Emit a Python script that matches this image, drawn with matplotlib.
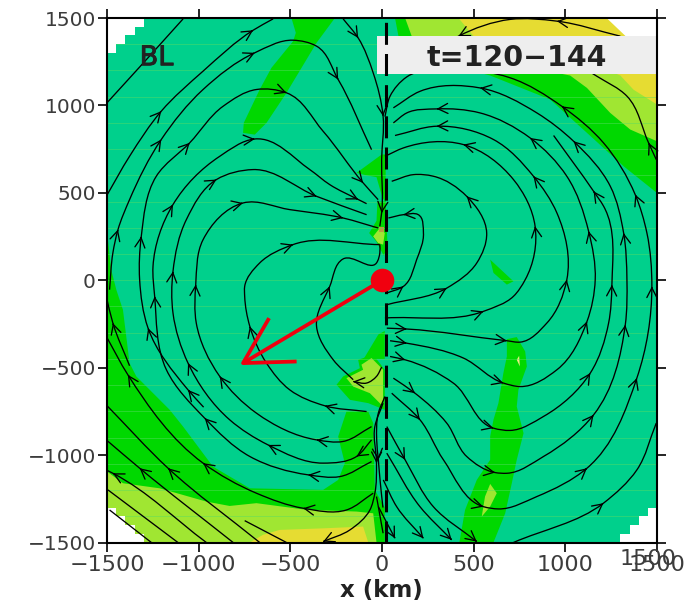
import numpy as np
import matplotlib
matplotlib.use('Agg')
import matplotlib.pyplot as plt
import matplotlib.patheffects as pe
from matplotlib.patches import PathPatch, Polygon, Rectangle
from matplotlib.path import Path

plt.rcParams['font.family'] = ['DejaVu Sans']

TEAL = '#00d08c'
GREEN = '#00d800'
LIGHT = '#a0e632'
YELLOW = '#e6dc32'
RED = '#f0000f'

x_ticks = [-1500, -1000, -500, 0, 500, 1000, 1500]
y_ticks = [-1500, -1000, -500, 0, 500, 1000, 1500]
faint_levels = [-1350, -1200, -1050, -900, -750, -600, -450, -300, -150, 0,
                150, 300, 450, 600, 750, 900, 1050, 1200, 1350]

# shaded regions (km)
green_topleft = [(-494, 1500), (-257, 1500), (-357, 1358), (-521, 1072), (-630, 900), (-694, 833), (-758, 843),
                 (-754, 900), (-667, 1091), (-603, 1215), (-485, 1367), (-470, 1415)]
green_above = [(-139, 614), (-2, 719), (20, 720), (20, 440), (0, 480), (-30, 590), (-84, 600)]
green_strip = [(-25, 450), (20, 450), (30, 200), (10, 140), (-30, 220), (-70, 270), (-30, 340)]
light_center = [(-48, 251), (-12, 299), (15, 270), (6, 204), (-21, 213)]
brown_center = [(-15, 305), (12, 305), (12, 278), (-15, 278)]
green_left = [(-1500, 280), (-1477, 60), (-1449, -55), (-1413, -169), (-1377, -474), (-1340, -550), (-1158, -741),
              (-1085, -837), (-922, -1066), (-721, -1190), (-321, -1199), (-239, -1142), (-203, -1046), (-239, -894),
              (-194, -751), (-75, -751), (-48, -817), (-39, -1199), (15, -1300), (15, -1500), (-1500, -1500)]
light_bottom = [(-1500, -1094), (-1413, -1161), (-1213, -1190), (-958, -1266), (-831, -1291), (-685, -1275),
                (-412, -1313), (-139, -1323), (-48, -1333), (-30, -1500), (-1500, -1500)]
yellow_bottom = [(-721, -1500), (-649, -1456), (-558, -1428), (-321, -1419), (-103, -1409), (-75, -1500)]
green_island = [(-248, -598), (-212, -550), (-121, -503), (-130, -455), (-48, -426), (15, -512), (15, -741),
                (-75, -703), (-175, -684)]
green_neck = [(-100, -450), (-20, -310), (15, -290), (15, -450)]
light_island = [(-194, -560), (-103, -512), (-112, -483), (-57, -445), (6, -512), (6, -722), (-66, -646),
                (-157, -608)]
green_right = [(681, -337), (735, -325), (781, -407), (790, -493), (744, -627), (735, -722), (772, -875), (735, -1027),
               (708, -1161), (672, -1333), (608, -1500), (422, -1500), (453, -1314), (517, -1142), (590, -1027),
               (590, -894), (608, -798), (635, -703), (662, -531), (681, -436)]
light_right = [(590, -1165), (626, -1218), (590, -1294), (544, -1352), (562, -1237)]
light_right_spot = [(735, -455), (748, -432), (752, -493)]
green_spot = [(590, 118), (717, -6), (681, -25), (608, 42)]
green_corner = [(71, 1500), (90, 1395), (300, 1250), (590, 1171), (917, 1034), (1118, 843), (1318, 652), (1500, 499),
                (1500, 1500)]
light_corner = [(126, 1500), (162, 1396), (500, 1280), (1026, 1171), (1118, 1100), (1245, 957), (1354, 862),
                (1500, 795), (1500, 1500)]
yellow_corner = [(417, 1500), (500, 1396), (900, 1350), (1300, 1171), (1372, 1090), (1500, 1005), (1500, 1500)]

# missing-data corners (km)
white_tl = [(-1500, 1500), (-1500, 1300), (-1450, 1300), (-1450, 1350), (-1400, 1350), (-1400, 1400), (-1350, 1400),
            (-1350, 1450), (-1300, 1450), (-1300, 1500)]
white_tr = [(1225, 1500), (1330, 1395), (1500, 1395), (1500, 1500)]
white_br = [(1500, -1500), (1300, -1500), (1300, -1450), (1350, -1450), (1350, -1400), (1400, -1400), (1400, -1350),
            (1450, -1350), (1450, -1300), (1500, -1300)]
white_bl = [(-1500, -1500), (-1500, -1300), (-1450, -1300), (-1450, -1350), (-1400, -1350), (-1400, -1400),
            (-1350, -1400), (-1350, -1450), (-1300, -1450), (-1300, -1500)]

# streamlines (km), in flow order
tl1 = [(-1500, 1015), (-1300, 1245), (-1085, 1495)]
tl2 = [(-1504, 480), (-1377, 709), (-1204, 967), (-976, 1196), (-703, 1430), (-594, 1495)]
tl3 = [(-1486, -54), (-1468, 156), (-1440, 290), (-1377, 461), (-1204, 805), (-976, 1091), (-694, 1301), (-485, 1373),
       (-357, 1339), (-239, 1148), (-57, 747)]
l150 = [(-973, -726), (-1058, -627), (-1276, -274), (-1322, 3), (-1313, 251), (-1231, 595), (-1049, 786), (-867, 995),
        (-685, 1091), (-521, 1072), (-321, 852), (-103, 557), (-21, 461)]
l190 = [(-57, -1037), (-230, -1123), (-403, -1113), (-721, -1008), (-967, -789), (-1176, -512), (-1240, -92),
        (-1249, 80), (-1140, 433), (-885, 709), (-694, 808), (-394, 633), (-285, 547), (-130, 462), (-84, 438)]
l245 = [(-57, -913), (-139, -1008), (-321, -1046), (-621, -942), (-831, -798), (-1058, -474), (-1140, -188),
        (-1140, 51), (-1067, 347), (-903, 576), (-703, 633), (-357, 480), (-84, 375)]
l318 = [(-57, -837), (-212, -922), (-357, -913), (-685, -760), (-885, -550), (-1013, -245), (-1016, -25), (-976, 232),
        (-758, 442), (-503, 404), (-212, 356), (-21, 299)]
l465 = [(-84, -751), (-312, -718), (-503, -627), (-630, -474), (-721, -264), (-749, -92), (-749, -35), (-667, 99),
        (-485, 204), (-12, 204)]
core = [(-157, -569), (-266, -455), (-357, -264), (-285, -35), (-212, 122), (-30, 99), (-12, 156), (-12, 204)]
arc = [(-2, -497), (-30, -550), (-84, -588), (-157, -579)]
la = [(-48, -1218), (-194, -1314), (-430, -1304), (-685, -1218), (-976, -1046), (-1386, -541), (-1504, -321)]
lb = [(-1377, -489), (-1468, -245), (-1504, -92)]
lc = [(-667, -1500), (-1167, -1075), (-1504, -713)]
ld = [(-812, -1500), (-1322, -1075), (-1504, -913)]
le = [(-958, -1500), (-1468, -1104), (-1504, -1085)]
lf = [(-1113, -1500), (-1495, -1199)]
lg = [(-1258, -1500), (-1486, -1314)]
lh = [(-521, -1500), (-749, -1375)]
ax1 = [(-212, 1495), (-130, 1386), (-48, 1186), (6, 938), (-2, 690), (-2, 385), (-12, 309)]
ax2 = [(6, -703), (-39, -837), (-30, -1046), (-39, -1218), (-66, -1314), (-175, -1428), (-321, -1495)]
ax3 = [(-30, -1237), (6, -1447)]
ax4 = [(16, -665), (-20, -760), (-29, -913), (-20, -1027), (-10, -1150), (5, -1300)]
r1 = [(1496, 690), (1454, 786), (1336, 1053), (1172, 1167), (1026, 1260)]
r1top = [(1300, 1396), (954, 1482), (699, 1492), (417, 1396), (298, 1320)]
r2 = [(53, -646), (207, -798), (335, -1027), (553, -1295), (635, -1308), (845, -1237), (1118, -1075), (1390, -560),
      (1472, -35), (1445, 270), (1381, 490), (1208, 786), (981, 995), (699, 1158), (390, 1205), (135, 1163), (44, 1053),
      (16, 936)]
r3 = [(62, -560), (180, -646), (353, -817), (462, -1008), (617, -1100), (681, -1104), (881, -1008), (1154, -770),
      (1327, -255), (1336, 3), (1318, 270), (1245, 538), (1045, 795), (845, 957), (535, 1100), (208, 1081), (62, 986)]
r4 = [(44, -436), (126, -455), (390, -589), (608, -846), (699, -859), (881, -779), (1136, -531), (1236, -245),
      (1254, -26), (1209, 423), (1154, 509), (936, 828)]
r5 = [(44, -346), (135, -360), (444, -445), (662, -588), (753, -608), (954, -512), (1118, -236), (1163, 3), (1127, 280),
      (1008, 595), (808, 814), (535, 957), (298, 980), (135, 957), (62, 900)]
r6 = [(26, -274), (135, -279), (681, -346), (753, -354), (899, -245), (1008, 3), (954, 385), (826, 595), (608, 805),
      (298, 881), (71, 828)]
r7 = [(16, -216), (553, -178), (717, -92), (781, 3), (835, 309), (717, 576), (444, 776), (117, 757), (16, 709)]
r8 = [(26, -140), (353, -45), (517, 99), (571, 270), (462, 480), (280, 595), (171, 604), (53, 566)]
r9 = [(26, -73), (117, -35), (189, 118), (226, 270), (198, 375), (117, 375), (35, 356)]
s9 = [(26, -837), (126, -1027), (280, -1295), (517, -1495)]
s10 = [(26, -989), (207, -1295), (380, -1485)]
s11 = [(7, -1142), (80, -1295), (226, -1476)]
s12 = [(-20, -1295), (71, -1476)]
s13 = [(717, -1500), (1208, -1275), (1390, -1085), (1496, -817)]

# (line, indices of the points that carry an arrowhead)
streamlines = [(tl1, []), (tl2, [2, 4]), (tl3, [2, 4, 6, 9]), (l150, [1, 2, 4, 6, 9, 11]),
               (l190, [2, 4, 6, 8, 10, 13]), (l245, [1, 3, 5, 7, 9, 11]), (l318, [2, 4, 6, 8, 10]),
               (l465, [1, 4, 8]), (core, [3]), (arc, [3]), (la, [2, 4, 5]), (lb, [1]), (lc, [1]), (ld, [1]),
               (le, [1]), (lf, []), (lg, []), (lh, []), (ax1, [1, 3, 5]), (ax2, [2, 6]), (ax3, []), (ax4, [3]),
               (r1, [1]), (r1top, [1, 3]), (r2, [1, 3, 6, 7, 8, 10, 12]), (r3, [1, 4, 7, 8, 10, 12, 14]),
               (r4, [1, 3, 6, 8, 10]), (r5, [1, 3, 6, 8, 10, 12]), (r6, [1, 2, 5, 7, 9]), (r7, [1, 4, 6]),
               (r8, [1, 4]), (r9, [1, 5]), (s9, [1, 3]), (s10, [2]), (s11, [2]), (s12, [1]), (s13, [1])]

storm_x, storm_y = 0, 0
motion_tip = (-758, -474)
motion_barb1 = (-621, -226)
motion_barb2 = (-476, -465)


# Tangent at each point, weighted by distance so uneven spacing does not overshoot
def tangents(pts):
    seg = np.linalg.norm(np.diff(pts, axis=0), axis=1)
    unit = np.diff(pts, axis=0) / seg[:, None]
    out = np.zeros_like(pts)
    out[0] = unit[0]
    out[-1] = unit[-1]
    for i in range(1, len(pts) - 1):
        t = unit[i - 1] * seg[i] + unit[i] * seg[i - 1]
        out[i] = t / np.linalg.norm(t)
    return out, seg


def smooth_path(points):
    pts = np.array(points, dtype=float)
    tan, seg = tangents(pts)
    verts = [pts[0]]
    codes = [Path.MOVETO]
    for i in range(len(pts) - 1):
        verts += [pts[i] + tan[i] * seg[i] / 3, pts[i + 1] - tan[i + 1] * seg[i] / 3, pts[i + 1]]
        codes += [Path.CURVE4] * 3
    return Path(verts, codes)


def draw_streamline(ax, points, arrow_idx):
    ax.add_patch(PathPatch(smooth_path(points), fc='none', ec='black', lw=0.95, zorder=5))
    pts = np.array(points, dtype=float)
    tan, _ = tangents(pts)
    for i in arrow_idx:
        ax.annotate('', xy=pts[i], xytext=pts[i] - tan[i] * 8,
                    arrowprops=dict(arrowstyle='->,head_length=0.7,head_width=0.36', color='black', lw=0.95,
                                    shrinkA=0, shrinkB=0), zorder=5)


def main():
    fig = plt.figure(figsize=(6.85, 6.05), dpi=100)
    ax = fig.add_axes([107 / 685, (605 - 542.5) / 605, 550 / 685, 524.5 / 605])
    ax.set_xlim(-1500, 1500)
    ax.set_ylim(-1500, 1500)
    ax.set_facecolor(TEAL)

    regions = [(green_topleft, GREEN), (green_left, GREEN), (green_above, GREEN), (green_strip, GREEN),
               (green_island, GREEN), (green_neck, GREEN), (green_right, GREEN), (green_spot, GREEN),
               (green_corner, GREEN), (light_corner, LIGHT), (yellow_corner, YELLOW), (light_bottom, LIGHT),
               (yellow_bottom, YELLOW), (light_island, LIGHT), (light_center, LIGHT), (brown_center, '#b8a040'),
               (light_right, LIGHT), (light_right_spot, '#e8f080')]
    for poly, color in regions:
        ax.add_patch(Polygon(poly, closed=True, fc=color, ec='none', zorder=1))
    ax.hlines(faint_levels, -1500, 1500, color='#58dc64', lw=0.6, alpha=0.55, zorder=2)
    for poly in [white_tl, white_tr, white_br, white_bl]:
        ax.add_patch(Polygon(poly, closed=True, fc='white', ec='none', zorder=3))

    for points, arrow_idx in streamlines:
        draw_streamline(ax, points, arrow_idx)

    # label box sits over the streamlines
    ax.add_patch(Rectangle((-30, 1180), 1525, 218, fc='#eeeeee', ec='none', zorder=6))
    ax.text(735, 1270, 't=120\u2212144', ha='center', va='center', fontsize=20.5, weight='bold', color='#222222', zorder=7)
    ax.text(-1230, 1270, 'BL', ha='center', va='center', fontsize=19.5, color='#222222', zorder=7,
            path_effects=[pe.withStroke(linewidth=0.7, foreground='#222222')])

    ax.plot([20, 20], [-1500, 1500], color='black', lw=2.2, dashes=(7.2, 3), zorder=8)

    ax.plot(*zip((storm_x, storm_y), motion_tip), color=RED, lw=2.7, zorder=9, solid_capstyle='butt')
    ax.plot(*zip(motion_barb1, motion_tip, motion_barb2), color=RED, lw=2.7, zorder=9)
    ax.plot([storm_x], [storm_y], 'o', color=RED, ms=17, mec='none', zorder=10)

    ax.set_xticks(x_ticks)
    ax.set_yticks(y_ticks)
    ax.set_xticklabels([str(t).replace('-', '\u2212') for t in x_ticks])
    ax.set_yticklabels([str(t).replace('-', '\u2212') for t in y_ticks])
    ax.tick_params(axis='both', which='both', direction='out', length=6.5, width=1.2, top=True, right=True,
                   labelcolor='#3c3c3c')
    ax.tick_params(axis='x', labelsize=16, pad=2.5)
    ax.tick_params(axis='y', labelsize=14.5, pad=1.5)
    for spine in ax.spines.values():
        spine.set_linewidth(1.5)
        spine.set_zorder(11)

    fig.text(381 / 685, 1 - 590 / 605, 'x (km)', ha='center', va='center', fontsize=16.5, weight='bold', color='#222222')
    # the right-hand label is printed twice in the source, slightly offset
    fig.text(648 / 685, 1 - 559 / 605, '1500', ha='center', va='center', fontsize=16, color='#3c3c3c')

    fig.savefig('out.png', dpi=100)
    plt.close(fig)


if __name__ == "__main__":
    main()
